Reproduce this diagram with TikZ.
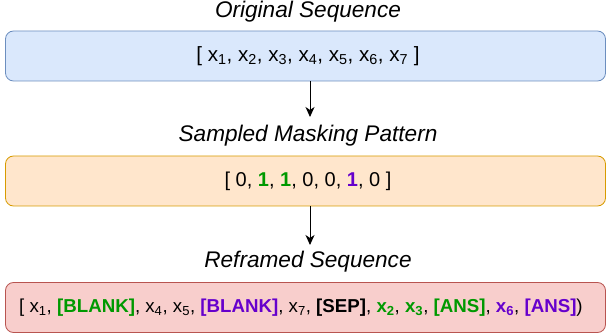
\documentclass[tikz,border=0pt]{standalone}
\usepackage{fontspec}
\setmainfont{Liberation Sans}
\usepackage{xcolor}
\usetikzlibrary{arrows.meta}
\definecolor{seqblue}{HTML}{DAE8FC}
\definecolor{seqblueline}{HTML}{6C8EBF}
\definecolor{maskorange}{HTML}{FFE6CC}
\definecolor{maskorangeline}{HTML}{D79B00}
\definecolor{framered}{HTML}{F8CECC}
\definecolor{frameredline}{HTML}{B85450}
\definecolor{tokgreen}{HTML}{009900}
\definecolor{tokpurple}{HTML}{6600CC}
\newcommand{\xs}[1]{x\textsubscript{#1}}
\newcommand{\gtok}[1]{\textcolor{tokgreen}{\textbf{#1}}}
\newcommand{\ptok}[1]{\textcolor{tokpurple}{\textbf{#1}}}

\tikzset{
	seqbox/.style={draw, rounded corners=8pt, minimum width=600pt, minimum height=50pt, line width=0.8pt},
	boxtext/.style={font=\fontsize{20}{24}\selectfont, inner sep=0pt},
	title/.style={font=\fontsize{22.6}{27}\selectfont\itshape, inner sep=0pt},
	flow/.style={line width=0.9pt, arrows={-Stealth[length=10pt, width=9pt, inset=3pt]}}
}

\begin{document}
\begin{tikzpicture}[x=1pt, y=-1pt]
	\useasboundingbox (0,0) rectangle (607,336);
	\node [seqbox, fill=seqblue, draw=seqblueline] (orig) at (305.5,56) {};
	\node [seqbox, fill=maskorange, draw=maskorangeline] (mask) at (305.5,181) {};
	\node [seqbox, fill=framered, draw=frameredline] (frame) at (305.5,307.5) {};
	\node [title] (origtitle) at (308,12) {Original Sequence};
	\node [title] (masktitle) at (308,136) {Sampled Masking Pattern};
	\node [title] (frametitle) at (308,262) {Reframed Sequence};
	\node [boxtext, font=\fontsize{20.6}{24}\selectfont] (origtext) at (308,56) {[ \xs{1}, \xs{2}, \xs{3}, \xs{4}, \xs{5}, \xs{6}, \xs{7} ]};
	\node [boxtext] (masktext) at (308,181) {[ 0, \gtok{1}, \gtok{1}, 0, 0, \ptok{1}, 0 ]};
	\node [boxtext, font=\fontsize{18.7}{22}\selectfont, anchor=west] (frametext) at (19,307.5) {[ \xs{1}, \gtok{[BLANK]}, \xs{4}, \xs{5}, \ptok{[BLANK]}, \xs{7}, \textbf{[SEP]}, \gtok{\xs{2}}, \gtok{\xs{3}}, \gtok{[ANS]}, \ptok{\xs{6}}, \ptok{[ANS]})};
	\coordinate (maskin) at (310,117);
	\coordinate (framein) at (310,245);
	\draw [flow] (orig.south -| maskin) -- (maskin);
	\draw [flow] (mask.south -| framein) -- (framein);
\end{tikzpicture}
\end{document}
